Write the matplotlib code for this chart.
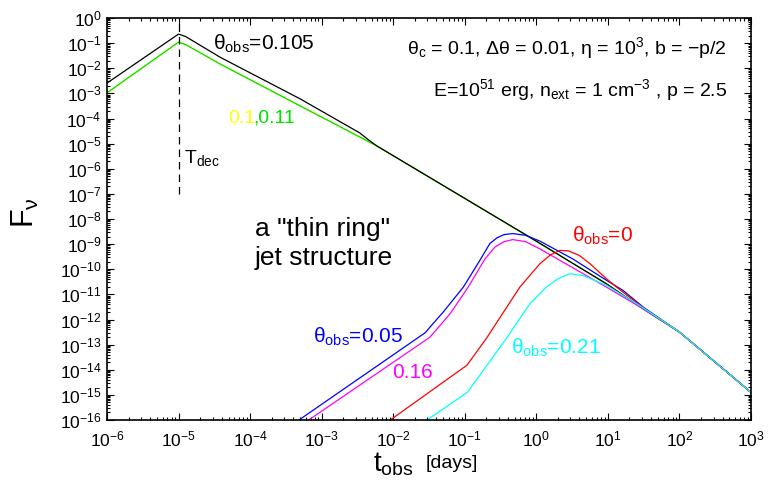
import numpy as np
import matplotlib
matplotlib.use("Agg")
import matplotlib.pyplot as plt
from matplotlib.ticker import LogLocator, NullFormatter

plt.rcParams['font.family'] = ['Liberation Sans', 'DejaVu Sans']
plt.rcParams['mathtext.fontset'] = 'custom'
plt.rcParams['mathtext.rm'] = 'Liberation Sans'
plt.rcParams['mathtext.it'] = 'Liberation Sans'
plt.rcParams['mathtext.default'] = 'regular'

# light curves as log10(t_obs [days]) / log10(F_nu)
lt_black = [-6.0, -5.0, -4.9, -4.42, -3.3, -2.47, -2.35, -2.23, -1.0, -0.13, 0.05, 0.98, 1.49, 2.0, 2.5, 3.0]
lf_black = [-2.59, -0.64, -0.74, -1.56, -3.22, -4.57, -4.84, -5.09, -7.18, -8.66, -8.97, -10.58, -11.57, -12.5, -13.7, -14.9]

lt_green = [-6.0, -5.0, -4.9, -4.42, -3.3, -2.23, -1.0, -0.13, 0.05, 0.98, 1.49, 2.0, 2.5, 3.0]
lf_green = [-2.98, -0.96, -1.06, -1.83, -3.5, -5.09, -7.18, -8.66, -8.97, -10.58, -11.57, -12.5, -13.7, -14.9]

lt_yellow = [-6.0, -5.0, -4.9, -4.42, -3.3, -2.23, -1.0, -0.13, 0.05, 0.98, 1.49, 2.0, 2.5, 3.0]
lf_yellow = [-2.98, -0.96, -1.06, -1.83, -3.5, -5.09, -7.18, -8.66, -8.97, -10.58, -11.57, -12.5, -13.7, -14.9]

lt_blue = [-3.5, -1.55, -1.47, -1.3, -1.02, -0.79, -0.65, -0.55, -0.45, -0.33, -0.15, 0.05, 0.51, 0.98, 1.21, 1.5, 2.0, 2.5, 3.0]
lf_blue = [-16.36, -12.52, -12.25, -11.7, -10.71, -9.65, -8.98, -8.75, -8.62, -8.58, -8.65, -8.88, -9.59, -10.44, -10.84, -11.52, -12.5, -13.7, -14.9]

lt_magenta = [-3.5, -1.49, -1.4, -1.2, -0.95, -0.72, -0.58, -0.45, -0.33, -0.15, 0.05, 0.98, 1.49, 2.0, 2.5, 3.0]
lf_magenta = [-16.62, -12.71, -12.42, -11.75, -10.7, -9.6, -9.12, -8.9, -8.82, -8.9, -9.19, -10.71, -11.57, -12.5, -13.7, -14.9]

lt_red = [-2.1, -0.97, -0.7, -0.23, 0.05, 0.2, 0.33, 0.45, 0.6, 0.75, 0.98, 1.16, 1.5, 2.0, 2.5, 3.0]
lf_red = [-16.12, -13.82, -12.76, -10.71, -9.78, -9.42, -9.25, -9.27, -9.45, -9.78, -10.38, -10.8, -11.55, -12.5, -13.7, -14.9]

lt_cyan = [-1.6, -0.96, -0.42, -0.09, 0.14, 0.3, 0.47, 0.65, 0.98, 1.44, 2.0, 2.5, 3.0]
lf_cyan = [-16.14, -14.89, -12.76, -11.37, -10.71, -10.38, -10.18, -10.25, -10.64, -11.44, -12.5, -13.7, -14.9]

t_dec = 1e-5
t_dec_span = [1e-7, 1.0]

fig = plt.figure(figsize=(7.68, 4.84), dpi=100)
ax = fig.add_axes([107 / 768, 1 - 420 / 484, 644 / 768, 402 / 484])

curves = [
    (lt_yellow, lf_yellow, '#ffff00'),
    (lt_green, lf_green, '#00e000'),
    (lt_black, lf_black, 'black'),
    (lt_blue, lf_blue, '#0000ff'),
    (lt_magenta, lf_magenta, '#ff00ff'),
    (lt_red, lf_red, '#ff0000'),
    (lt_cyan, lf_cyan, '#00ffff'),
]
for lt, lf, c in curves:
    ax.plot(10 ** np.array(lt), 10 ** np.array(lf), color=c, lw=0.9)

ax.plot([t_dec, t_dec], t_dec_span, color='black', lw=0.9, ls=(0, (6, 4)))

ax.set_xscale('log')
ax.set_yscale('log')
ax.set_xlim(1e-6, 1e3)
ax.set_ylim(1e-16, 1)

ax.xaxis.set_major_locator(LogLocator(base=10, numticks=30))
ax.xaxis.set_minor_locator(LogLocator(base=10, subs=np.arange(2, 10), numticks=300))
ax.yaxis.set_major_locator(LogLocator(base=10, numticks=30))
ax.yaxis.set_minor_locator(LogLocator(base=10, subs=np.arange(2, 10), numticks=300))
ax.xaxis.set_minor_formatter(NullFormatter())
ax.yaxis.set_minor_formatter(NullFormatter())

ax.tick_params(which='both', direction='in', top=True, right=True, width=0.8, labelsize=12.5)
ax.tick_params(which='major', length=5)
ax.tick_params(which='minor', length=2.5)
ax.tick_params(axis='x', which='major', pad=7)
ax.tick_params(axis='y', which='major', pad=4)
for s in ax.spines.values():
    s.set_linewidth(1.2)

# labels
fig.text(25 / 768, 1 - 213 / 484, r'$F_ν$', rotation=90, ha='center', va='center', fontsize=22)
fig.text(373 / 768, 1 - 471 / 484, r'$t_{obs}$', ha='left', va='baseline', fontsize=20)
fig.text(426 / 768, 1 - 468 / 484, '[days]', ha='left', va='baseline', fontsize=14)

tr = ax.transAxes
ax.text(0.165, 0.920, r'$θ_{obs}$=0.105', transform=tr, fontsize=15, color='black')
ax.text(0.188, 0.739, '0.1', transform=tr, fontsize=14, color='#ffff00')
ax.text(0.227, 0.739, ',0.11', transform=tr, fontsize=14, color='#00e000')
ax.text(0.120, 0.639, r'$T_{dec}$', transform=tr, fontsize=14)
ax.text(0.963, 0.910, r'$θ_c$ = 0.1, Δθ = 0.01, η = $10^3$, b = −p/2', transform=tr,
        fontsize=14, ha='right')
ax.text(0.963, 0.806, r'E=$10^{51}$ erg, $n_{ext}$ = 1 cm$^{-3}$ , p = 2.5', transform=tr,
        fontsize=14, ha='right')
ax.text(0.230, 0.458, 'a "thin ring"', transform=tr, fontsize=19)
ax.text(0.230, 0.386, 'jet structure', transform=tr, fontsize=19)
ax.text(0.722, 0.443, r'$θ_{obs}$=0', transform=tr, fontsize=15, color='#ff0000')
ax.text(0.320, 0.192, r'$θ_{obs}$=0.05', transform=tr, fontsize=15, color='#0000ff')
ax.text(0.442, 0.104, '0.16', transform=tr, fontsize=15, color='#ff00ff')
ax.text(0.628, 0.164, r'$θ_{obs}$=0.21', transform=tr, fontsize=15, color='#00ffff')

fig.savefig('out.png', dpi=100)
